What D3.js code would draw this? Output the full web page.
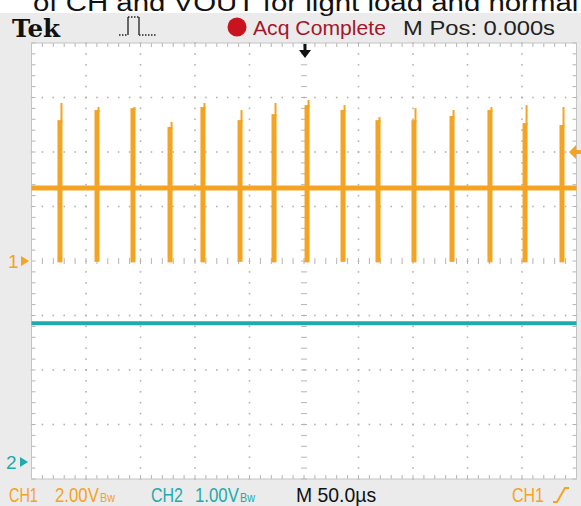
<!DOCTYPE html>
<html><head><meta charset="utf-8">
<script src="https://cdn.jsdelivr.net/npm/d3@7"></script>
<style>html,body{margin:0;padding:0;background:#fff;overflow:hidden}</style>
</head><body>
<svg id="c" width="581" height="506"></svg>
<script>
const timePerDiv = 50;          // µs/div  (M 50.0µs)
const ch1VoltsPerDiv = 2;       // CH1 2.00V
const ch2VoltsPerDiv = 1;       // CH2 1.00V
const ch2GroundDiv = -3.69;     // CH2 ground marker position (divisions)
const ch1Baseline = 2.68;       // V, CH1 flat level between pulses
const ch2Level = 2.55;          // V, CH2 level
const triggerLevel = 4.0;       // V on CH1
const pulseTimes = [-223.9, -189.9, -156.9, -122.9, -92.7, -58.7, -27.5, 2.8, 35.8, 67.9, 100.9, 135.8, 170.6, 202.8, 236.7]; // µs
const pulsePeak  = [5.80, 5.65, 5.65, 5.10, 5.80, 5.54, 5.80, 5.91, 5.72, 5.28, 5.61, 5.54, 5.65, 5.72, 5.65];          // V (thin spike top)
const pulseBody  = [5.17, 5.54, 5.61, 4.92, 5.65, 5.17, 5.39, 5.72, 5.54, 5.17, 5.17, 5.32, 5.54, 5.06, 4.99];          // V (thick part top)
const pulseMin   = [-0.05, -0.03, -0.05, -0.05, -0.05, -0.03, -0.05, -0.05, -0.03, -0.05, -0.05, -0.03, -0.05, -0.05, -0.05]; // V

const svg = d3.select("#c");
const W = 581, H = 506;
const L = 31.5, R = 576.5, T = 43, B = 479;
const ORANGE = "#f4a322", TEAL = "#1faaab";

// scales
const xDiv = d3.scaleLinear().domain([-5,5]).range([L,R]);
const yDiv = d3.scaleLinear().domain([-4,4]).range([B,T]);
const xT = d3.scaleLinear().domain([-5*timePerDiv, 5*timePerDiv]).range([L,R]);
const y1 = d3.scaleLinear().domain([-4*ch1VoltsPerDiv, 4*ch1VoltsPerDiv]).range([B,T]);
const y2 = d3.scaleLinear().domain([(-4-ch2GroundDiv)*ch2VoltsPerDiv, (4-ch2GroundDiv)*ch2VoltsPerDiv]).range([B,T]);

// backgrounds
svg.append("rect").attr("x",0).attr("y",0).attr("width",W).attr("height",H).attr("fill","#fff");
svg.append("rect").attr("x",0).attr("y",13).attr("width",W).attr("height",H-13).attr("fill","#ebebeb");
svg.append("rect").attr("x",L).attr("y",T).attr("width",R-L).attr("height",B-T).attr("fill","#fff");

// caption (cut off at top, as in the reference)
svg.append("text").attr("x",33).attr("y",11).attr("font-family","Liberation Sans, Arial, sans-serif")
  .attr("font-size",23).attr("fill","#111").attr("textLength",560).attr("lengthAdjust","spacingAndGlyphs")
  .text("of CH and VOUT for light load and normal l");

// grid
const g = svg.append("g");
const minor = d3.range(-25,26).map(d=>d/5);
const minorY = d3.range(-20,21).map(d=>d/5);
const gridCol = "#b4b4b4";
[-4,-3,-2,-1,1,2,3,4].forEach(k=>{
  minorY.forEach(v=>{
    g.append("rect").attr("x",xDiv(k)-0.8).attr("y",yDiv(v)-0.8).attr("width",1.6).attr("height",1.6).attr("fill",gridCol);
  });
});
[-3,-2,-1,1,2,3].forEach(k=>{
  minor.forEach(v=>{
    g.append("rect").attr("x",xDiv(v)-0.8).attr("y",yDiv(k)-0.8).attr("width",1.6).attr("height",1.6).attr("fill",gridCol);
  });
});
minorY.forEach(v=>{
  g.append("line").attr("x1",xDiv(0)-3).attr("x2",xDiv(0)+3).attr("y1",yDiv(v)).attr("y2",yDiv(v)).attr("stroke",gridCol).attr("stroke-width",1);
});
minor.forEach(v=>{
  g.append("line").attr("x1",xDiv(v)).attr("x2",xDiv(v)).attr("y1",yDiv(0)-3).attr("y2",yDiv(0)+3).attr("stroke",gridCol).attr("stroke-width",1);
});
minor.forEach(v=>{
  g.append("line").attr("x1",xDiv(v)).attr("x2",xDiv(v)).attr("y1",T).attr("y2",T+4).attr("stroke",gridCol);
  g.append("line").attr("x1",xDiv(v)).attr("x2",xDiv(v)).attr("y1",B).attr("y2",B-4).attr("stroke",gridCol);
});
minorY.forEach(v=>{
  g.append("line").attr("x1",L).attr("x2",L+4).attr("y1",yDiv(v)).attr("y2",yDiv(v)).attr("stroke",gridCol);
  g.append("line").attr("x1",R).attr("x2",R-4).attr("y1",yDiv(v)).attr("y2",yDiv(v)).attr("stroke",gridCol);
});
g.append("rect").attr("x",L).attr("y",T).attr("width",R-L).attr("height",B-T).attr("fill","none").attr("stroke","#c4c4c4");

// CH2 trace
svg.append("line").attr("x1",xT(-250)).attr("x2",xT(250)).attr("y1",y2(ch2Level)).attr("y2",y2(ch2Level))
  .attr("stroke",TEAL).attr("stroke-width",4);

// CH1 baseline
svg.append("line").attr("x1",xT(-250)).attr("x2",xT(250)).attr("y1",y1(ch1Baseline)).attr("y2",y1(ch1Baseline))
  .attr("stroke",ORANGE).attr("stroke-width",5);

// CH1 pulses
const pw = 4.6; // µs thick width
const pulses = svg.append("g");
pulseTimes.forEach((t,i)=>{
  pulses.append("rect").attr("x",xT(t-pw/2)).attr("width",xT(pw)-xT(0))
    .attr("y",y1(pulseBody[i])).attr("height",y1(pulseMin[i])-y1(pulseBody[i])).attr("fill",ORANGE);
  pulses.append("line").attr("x1",xT(t+pw/2)-1).attr("x2",xT(t+pw/2)-1)
    .attr("y1",y1(pulsePeak[i])).attr("y2",y1(pulseBody[i])+2).attr("stroke",ORANGE).attr("stroke-width",2);
});

// markers
const mk = svg.append("g");
mk.append("text").attr("x",8).attr("y",y1(0)+7).attr("font-family","Liberation Sans, Arial, sans-serif").attr("font-size",19).attr("fill",ORANGE).text("1");
mk.append("path").attr("d",`M21,${y1(0)-5}L29,${y1(0)}L21,${y1(0)+5}Z`).attr("fill",ORANGE);
mk.append("text").attr("x",6).attr("y",y2(0)+7).attr("font-family","Liberation Sans, Arial, sans-serif").attr("font-size",19).attr("fill",TEAL).text("2");
mk.append("path").attr("d",`M20,${y2(0)-5}L28,${y2(0)}L20,${y2(0)+5}Z`).attr("fill",TEAL);
const ty = y1(triggerLevel);
mk.append("path").attr("d",`M569,${ty}L576,${ty-7}L576,${ty-2}L581,${ty-2}L581,${ty+2}L576,${ty+2}L576,${ty+7}Z`).attr("fill",ORANGE);
const tx = xT(0)+1;
mk.append("path").attr("d",`M${tx-1.5},44L${tx+1.5},44L${tx+1.5},50L${tx+6},50L${tx},58L${tx-6},50L${tx-1.5},50Z`).attr("fill","#111");

// top bar
const topBar = svg.append("g");
topBar.append("text").attr("x",12).attr("y",37).attr("font-family","DejaVu Serif, Liberation Serif, serif").attr("font-weight","bold")
  .attr("font-size",24).attr("fill","#111").attr("textLength",48).attr("lengthAdjust","spacingAndGlyphs").text("Tek");
topBar.append("path").attr("d","M119,35L128,35 M139,35L157,35 M128,17L139,17").attr("fill","none").attr("stroke","#222").attr("stroke-width",1.3).attr("stroke-dasharray","1.5,1.5");
topBar.append("path").attr("d","M128,35L128,17 M139,17L139,35").attr("fill","none").attr("stroke","#222").attr("stroke-width",1.3);
topBar.append("circle").attr("cx",237).attr("cy",27).attr("r",9.5).attr("fill","#c8141e");
topBar.append("text").attr("x",253).attr("y",35).attr("font-family","Liberation Sans Narrow, Liberation Sans, Arial, sans-serif")
  .attr("font-size",21).attr("fill","#a3172b").attr("textLength",133).attr("lengthAdjust","spacingAndGlyphs").text("Acq Complete");
topBar.append("text").attr("x",403).attr("y",35).attr("font-family","Liberation Sans Narrow, Liberation Sans, Arial, sans-serif")
  .attr("font-size",20).attr("fill","#222").attr("textLength",152).attr("lengthAdjust","spacingAndGlyphs").text("M Pos: 0.000s");

// bottom bar (condensed via horizontal scale)
const bot = svg.append("g").attr("font-family","Liberation Sans, Arial, sans-serif").attr("font-size",20);
const by = 502;
function cond(x, txt, col, size, sx){
  bot.append("text").attr("transform",`translate(${x},${by}) scale(${sx},1)`).attr("fill",col).attr("font-size",size).text(txt);
}
cond(9,   "CH1",   ORANGE, 20, 0.72);
cond(55,  "2.00V", ORANGE, 20, 0.84);
cond(100, "Bw",    ORANGE, 12, 0.9);
cond(151, "CH2",   TEAL,   20, 0.8);
cond(195, "1.00V", TEAL,   20, 0.84);
cond(240, "Bw",    TEAL,   12, 0.9);
cond(296, "M 50.0µs", "#111", 20, 0.97);
cond(512, "CH1",   ORANGE, 20, 0.8);
bot.append("path").attr("d","M553,502L557,502L565,488L569,488").attr("fill","none").attr("stroke",ORANGE).attr("stroke-width",2);
</script>
</body></html>
